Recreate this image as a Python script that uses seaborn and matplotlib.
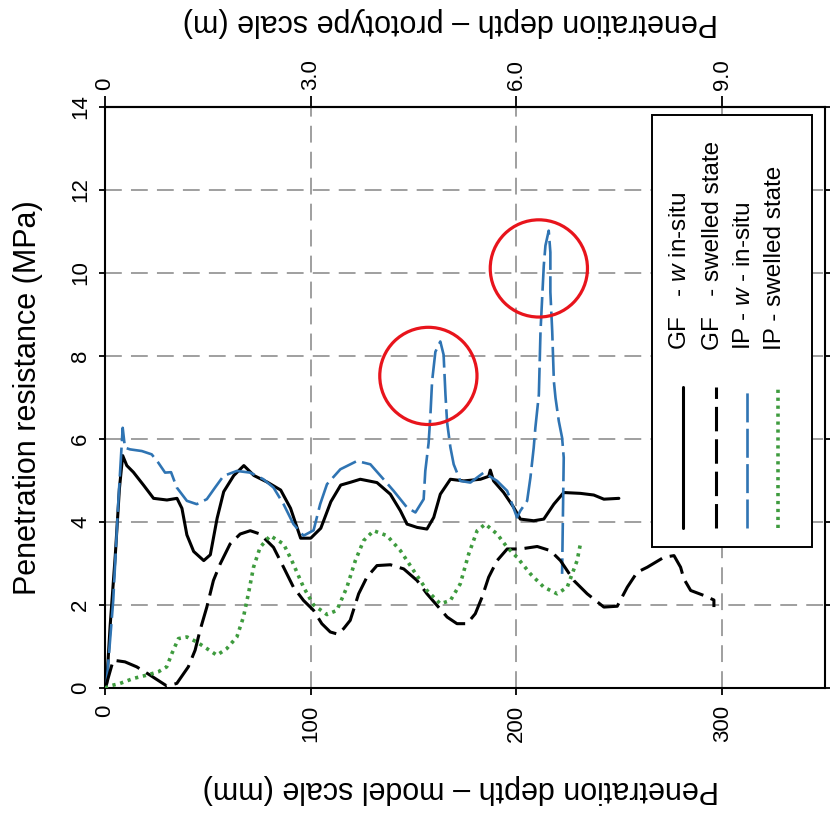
import numpy as np
import pandas as pd
import matplotlib
matplotlib.use("Agg")
import matplotlib.pyplot as plt
from matplotlib.patches import Rectangle
import seaborn as sns

# depth (mm, model scale) vs penetration resistance (MPa)
gf_insitu_x = [0, 0.8, 2.5, 5, 7, 8.6, 10.6, 13.8, 18.7, 23.6, 30.1, 35, 37.4, 39.8, 43.1, 48,
               51.2, 54.5, 57.7, 62.6, 67.5, 72.4, 78.9, 85.4, 90.2, 95.1, 100, 104.9, 109.8,
               114.6, 119.5, 124.1, 132.2, 138.7, 143.6, 146.8, 151.7, 156.5, 159.8, 163, 167.9,
               174.4, 182.5, 186.5, 187.3, 188.9, 193.8, 198.7, 201.9, 208.4, 213.3, 218.2, 223,
               231.1, 237.6, 242.5, 249.8]
gf_insitu_y = [0, 0.1, 1.5, 3.2, 4.8, 5.6, 5.36, 5.2, 4.89, 4.57, 4.53, 4.57, 4.33, 3.69, 3.29, 3.07,
               3.21, 4.09, 4.73, 5.12, 5.36, 5.12, 4.96, 4.77, 4.33, 3.61, 3.61, 3.85, 4.49,
               4.89, 4.96, 5.03, 4.95, 4.67, 4.27, 3.95, 3.87, 3.83, 4.11, 4.67, 5.03,
               4.99, 5.03, 5.1, 5.25, 4.99, 4.71, 4.35, 4.07, 4.03, 4.07, 4.43, 4.71,
               4.69, 4.65, 4.55, 4.57]

gf_swelled_x = [0, 0.8, 4, 9.7, 15.4, 21.9, 30, 34.9, 40.5, 43.8, 46.2, 49.5, 52.7, 56, 60.8, 65.7,
                70.6, 75.4, 81.9, 86.8, 91.6, 96.5, 101.4, 105.4, 109.5, 113, 116, 119.2, 123.3,
                127.3, 132.2, 138.7, 145.2, 151.7, 156.5, 161.4, 166.3, 171.1, 176, 180, 183.3,
                186.5, 190.6, 195.5, 201.9, 210.1, 216.5, 221.4, 227.9, 234.4, 242.5, 249, 253.9,
                258.7, 263.6, 271.7, 276.6, 279.8, 281.4, 284.7, 291.1, 296, 296]
gf_swelled_y = [0, 0.11, 0.67, 0.63, 0.51, 0.31, 0.05, 0.11, 0.51, 0.91, 1.39, 1.95, 2.59, 2.99, 3.47, 3.71,
                3.79, 3.71, 3.39, 2.91, 2.43, 2.11, 1.87, 1.55, 1.35, 1.3, 1.43, 1.63, 2.27,
                2.67, 2.95, 2.97, 2.87, 2.59, 2.27, 1.99, 1.71, 1.55, 1.55, 1.79, 2.19,
                2.67, 3.07, 3.35, 3.35, 3.41, 3.31, 3.07, 2.59, 2.27, 1.95, 1.97, 2.43,
                2.79, 2.91, 3.15, 3.19, 2.91, 2.63, 2.35, 2.23, 2.12, 1.95]

ip_insitu_x = [0, 0.8, 4, 6.5, 8.6, 9.7, 12.2, 17.9, 22.7, 25.9, 29.2, 32.1, 34.9, 39.8, 44.6, 49.5,
               53.5, 57.6, 64.1, 70.6, 77, 81.9, 86.8, 91.6, 96.5, 101.4, 104.6, 107.9, 114.4,
               122.5, 129, 135.4, 140.3, 146.8, 150.9, 154.9, 155.7, 157.3, 158.2, 159, 160.6,
               163, 164.6, 165.5, 166.3, 167.9, 169.5, 172.7, 177.6, 184.1, 190.6, 195.5, 200.3,
               201.9, 205.2, 206.8, 208.4, 209.2, 210.9, 211.7, 213.3, 214.1, 215.7, 216.5, 216.5,
               217.4, 218.2, 219, 220.6, 222.2, 223, 222.2]
ip_insitu_y = [0, 0.11, 2.11, 4.51, 6.27, 5.79, 5.75, 5.71, 5.63, 5.43, 5.19, 5.2, 4.83, 4.51, 4.43, 4.55,
               4.83, 5.11, 5.23, 5.19, 5.03, 4.83, 4.43, 3.95, 3.67, 3.8, 4.43, 4.91, 5.27,
               5.47, 5.39, 5.03, 4.75, 4.35, 4.23, 4.55, 5.23, 5.9, 6.59, 7.39, 8.1,
               8.35, 8.03, 7.07, 6.4, 5.8, 5.39, 4.99, 4.95, 5.19, 4.99, 4.75, 4.11,
               4.27, 4.51, 5.07, 5.79, 6.27, 7.07, 8.59, 10.18, 10.66, 11.02, 10.5, 9.54,
               8.59, 7.39, 6.99, 6.43, 6.03, 5.55, 2.75]

ip_swelled_x = [0, 2.4, 7.3, 13.8, 20.3, 25.9, 30, 32.5, 35.7, 39.8, 44.6, 49.5, 54.4, 59.2, 64.1,
                67.3, 69.7, 72.2, 75.4, 80.3, 86.8, 90.8, 96.5, 101.4, 107.9, 112.7, 117.6, 121.7,
                125.7, 130.6, 137.1, 143.6, 150, 156.5, 163, 167.9, 172.7, 176.8, 180.9, 184.9,
                190.6, 195.5, 200.3, 206.8, 213.3, 219.8, 224.7, 229.5, 231.1]
ip_swelled_y = [0, 0.05, 0.11, 0.23, 0.31, 0.39, 0.51, 0.83, 1.19, 1.23, 1.11, 0.95, 0.79, 0.95, 1.23,
                1.71, 2.27, 2.91, 3.39, 3.67, 3.47, 3.07, 2.43, 2.0, 1.77, 1.87, 2.43, 3.07,
                3.55, 3.79, 3.67, 3.31, 2.83, 2.35, 2.03, 2.11, 2.51, 3.23, 3.79, 3.95,
                3.71, 3.39, 3.15, 2.75, 2.43, 2.27, 2.43, 3.07, 3.47]

series_names = ["GF - w in-situ", "GF - swelled state", "IP - w - in-situ", "IP - swelled state"]
legend_texts = ["GF   - $\\it{w}$ in-situ", "GF   - swelled state",
                "IP - $\\it{w}$ - in-situ", "IP - swelled state"]

# highlighted peaks (depth mm, MPa)
circle_x = [157.2, 210.9]
circle_y = [7.52, 10.11]

depth_ticks = [0, 100, 200, 300]
mpa_ticks = [0, 2, 4, 6, 8, 10, 12, 14]
proto_ticks = [0, 3.0, 6.0, 9.0]
proto_labels = ["0", "3.0", "6.0", "9.0"]

sns.set_style("white")
plt.rcParams["font.family"] = ["Liberation Sans", "DejaVu Sans"]
plt.rcParams["mathtext.fontset"] = "custom"
plt.rcParams["mathtext.it"] = "Liberation Sans:italic"
plt.rcParams["mathtext.rm"] = "Liberation Sans"
for key in ["text.color", "axes.labelcolor", "xtick.color", "ytick.color"]:
    plt.rcParams[key] = "black"

blue = "#2f74b3"
green = "#3e9b3e"

fig = plt.figure(figsize=(8.3, 8.14), dpi=100)
ax = fig.add_axes([105 / 830, 1 - 688 / 814, 720 / 830, 581 / 814])

styles = {
    "GF - w in-situ": dict(color="black", lw=2.2, ls="-"),
    "IP - w - in-situ": dict(color=blue, lw=1.9, ls=(0, (11, 2.4))),
    "GF - swelled state": dict(color="black", lw=2.2, ls=(0, (8, 2.6))),
    "IP - swelled state": dict(color=green, lw=2.6, ls=(0, (0.9, 1.3))),
}
data = {
    "GF - w in-situ": (gf_insitu_x, gf_insitu_y),
    "IP - w - in-situ": (ip_insitu_x, ip_insitu_y),
    "GF - swelled state": (gf_swelled_x, gf_swelled_y),
    "IP - swelled state": (ip_swelled_x, ip_swelled_y),
}
for name in ["GF - w in-situ", "IP - w - in-situ", "GF - swelled state", "IP - swelled state"]:
    df = pd.DataFrame({"depth": data[name][0], "res": data[name][1]})
    st = styles[name]
    sns.lineplot(data=df, x="depth", y="res", sort=False, estimator=None, ax=ax,
                 color=st["color"], linewidth=st["lw"], linestyle=st["ls"], zorder=3)

ax.scatter(circle_x, circle_y, s=70 ** 2, facecolors="none", edgecolors="#e8141c",
           linewidths=2.3, zorder=4)

ax.set_xlim(0, 350)
ax.set_ylim(0, 14)
ax.set_xticks(depth_ticks)
ax.set_yticks(mpa_ticks)
ax.grid(True, color="#858585", linestyle=(0, (11, 6)), linewidth=1.1)
for s in ax.spines.values():
    s.set_color("black")
    s.set_linewidth(1.5)

ax.tick_params(axis="x", direction="out", length=5, width=1.3, pad=7, labelsize=16,
               labelrotation=90, bottom=True)
ax.tick_params(axis="y", direction="out", length=4, width=1.3, pad=6, labelsize=16,
               labelrotation=90, left=True, right=True)
for lab in ax.get_yticklabels():
    lab.set_va("center")

ax.set_xlabel("Penetration depth \u2013 model scale (mm)", fontsize=22, rotation=180, va="center")
ax.xaxis.set_label_coords(0.494, -0.174)
ax.set_ylabel("Penetration resistance (MPa)", fontsize=22, va="center")
ax.yaxis.set_label_coords(-0.107, 0.5)

secax = ax.secondary_xaxis("top", functions=(lambda d: d * 0.03, lambda p: p / 0.03))
secax.set_xticks(proto_ticks)
secax.set_xticklabels(proto_labels)
secax.tick_params(direction="out", length=8, width=1.3, pad=4, labelsize=16, labelrotation=90)
secax.spines["top"].set_linewidth(1.5)
secax.set_xlabel("Penetration depth \u2013 prototype scale (m)", fontsize=22, rotation=180, va="center")
secax.xaxis.set_label_coords(0.479, 1.146, transform=ax.transAxes)

# legend drawn by hand, rotated like the rest of the chart
ax.add_patch(Rectangle((0.760, 0.243), 0.222, 0.743, transform=ax.transAxes,
                       facecolor="white", edgecolor="black", linewidth=1.4, zorder=5))
leg_x = [0.803, 0.849, 0.892, 0.935]
for xk, name, txt in zip(leg_x, series_names, legend_texts):
    st = styles[name]
    ax.plot([xk, xk], [0.275, 0.518], transform=ax.transAxes, color=st["color"],
            linewidth=st["lw"], linestyle=st["ls"], zorder=6)
    ax.text(xk - 0.004, 0.582, txt, transform=ax.transAxes, rotation=90, ha="center",
            va="bottom", fontsize=17.5, zorder=6)

fig.savefig("out.png", dpi=100)
